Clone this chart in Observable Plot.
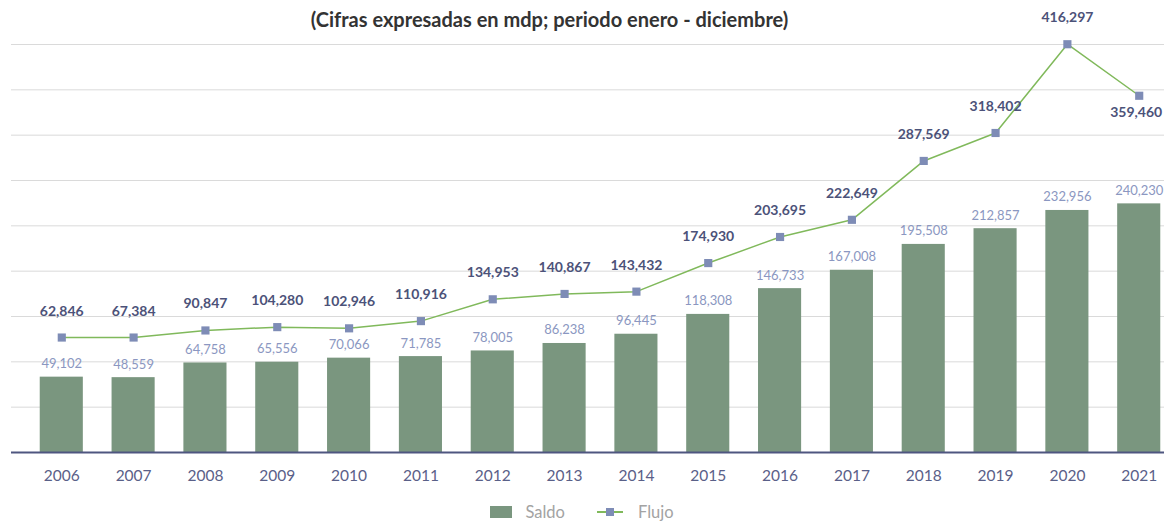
<!DOCTYPE html>
<html>
<head>
<meta charset="utf-8">
<script src="https://cdn.jsdelivr.net/npm/d3@7"></script>
<script src="https://cdn.jsdelivr.net/npm/@observablehq/plot@0.6"></script>
<style>
  html, body { margin: 0; padding: 0; background: #fff; overflow: hidden; width: 1164px; height: 521px; }
  #wrap { position: relative; width: 1164px; height: 521px; overflow: hidden; font-family: Lato, "Noto Sans", sans-serif; }
  #chart { position: absolute; top: 0; left: 0; width: 1189px; }
  #chart svg { max-width: none !important; width: 1189px !important; height: 490px !important; display: block; }
  #title { position: absolute; top: 8px; left: 0; width: 1099px; text-align: center; font-weight: bold; font-size: 20px; line-height: 22px; color: #333; }
  #legend { position: absolute; top: 490px; left: 0; width: 1164px; height: 31px; display: flex; justify-content: center; align-items: center; padding-top: 13px; box-sizing: border-box; font-size: 16.5px; color: #a3a3a3; }
  .item { display: flex; align-items: center; }
  .item svg { display: block; }
</style>
</head>
<body>
<div id="wrap">
  <div id="chart"></div>
  <div id="title">(Cifras expresadas en mdp; periodo enero - diciembre)</div>
  <div id="legend"></div>
</div>
<script>
// Categories
const years = ["2006","2007","2008","2009","2010","2011","2012","2013","2014","2015","2016","2017","2018","2019","2020","2021"];
// Saldo (bars)
const saldo = [49102, 48559, 64758, 65556, 70066, 71785, 78005, 86238, 96445, 118308, 146733, 167008, 195508, 212857, 232956, 240230];
// Flujo (line) as labelled
const flujo = [62846, 67384, 90847, 104280, 102946, 110916, 134953, 140867, 143432, 174930, 203695, 222649, 287569, 318402, 416297, 359460];
// Flujo as drawn by the markers (first years sit higher than their labels)
const flujoTrazo = [92800, 92800, 100600, 104280, 102946, 110916, 134953, 140867, 143432, 174930, 203695, 222649, 287569, 318402, 416297, 359460];
// Axis settings
const yMin = -34000, yMax = 416000, gridStep = 50000;
const seriesNames = ["Saldo", "Flujo"];

const colors = { bar: "#7a967f", line: "#80b95b", marker: "#7e8cb6", lineLabel: "#4c5279", barLabel: "#8b97c1", axis: "#5a6088", base: "#4f5680", grid: "#dadada" };

const data = years.map((y, i) => ({ year: y, saldo: saldo[i], flujo: flujo[i], trazo: flujoTrazo[i], base: yMin, last: i === years.length - 1 }));
const gridValues = d3.range(yMin + gridStep, yMax + 1, gridStep);
const fmt = d3.format(",");

const chart = Plot.plot({
  width: 1189,
  height: 490,
  marginLeft: 11,
  marginRight: 0,
  marginTop: 44,
  marginBottom: 38,
  style: { fontFamily: "Lato, 'Noto Sans', sans-serif", background: "#fff", overflow: "visible", maxWidth: "none" },
  x: { domain: years, padding: 0.4, round: false, label: null },
  y: { domain: [yMin, yMax], axis: null },
  marks: [
    Plot.ruleY(gridValues, { stroke: colors.grid, strokeWidth: 1 }),
    Plot.barY(data, { x: "year", y1: "base", y2: "saldo", fill: colors.bar }),
    Plot.ruleY([yMin], { stroke: colors.base, strokeWidth: 2 }),
    Plot.text(data, { x: "year", y: "saldo", text: d => fmt(d.saldo), dy: -9, lineAnchor: "bottom", fill: colors.barLabel, fontSize: 13 }),
    Plot.line(data, { x: "year", y: "trazo", stroke: colors.line, strokeWidth: 1.5 }),
    Plot.dot(data, { x: "year", y: "trazo", symbol: "square", r: 4.6, fill: colors.marker, stroke: "none" }),
    Plot.text(data.filter(d => !d.last), { x: "year", y: "trazo", text: d => fmt(d.flujo), dy: -22, lineAnchor: "bottom", fill: colors.lineLabel, fontSize: 14, fontWeight: "bold" }),
    Plot.text(data.filter(d => d.last), { x: "year", y: "trazo", text: d => fmt(d.flujo), dy: 21, dx: -3, lineAnchor: "bottom", fill: colors.lineLabel, fontSize: 14, fontWeight: "bold" }),
    Plot.axisX({ tickSize: 0, tickPadding: 17, fontSize: 15.5, fill: colors.axis, label: null })
  ]
});
document.getElementById("chart").appendChild(chart);

// Legend
const legend = document.getElementById("legend");
legend.innerHTML = `
  <div class="item"><svg width="22" height="12"><rect width="22" height="12" fill="${colors.bar}"/></svg><span style="margin-left:13px">${seriesNames[0]}</span></div>
  <div class="item" style="margin-left:32px"><svg width="26" height="12"><line x1="0" x2="26" y1="6" y2="6" stroke="${colors.line}" stroke-width="2"/><rect x="9" y="2" width="8" height="8" fill="${colors.marker}"/></svg><span style="margin-left:15px">${seriesNames[1]}</span></div>
`;
</script>
</body>
</html>
